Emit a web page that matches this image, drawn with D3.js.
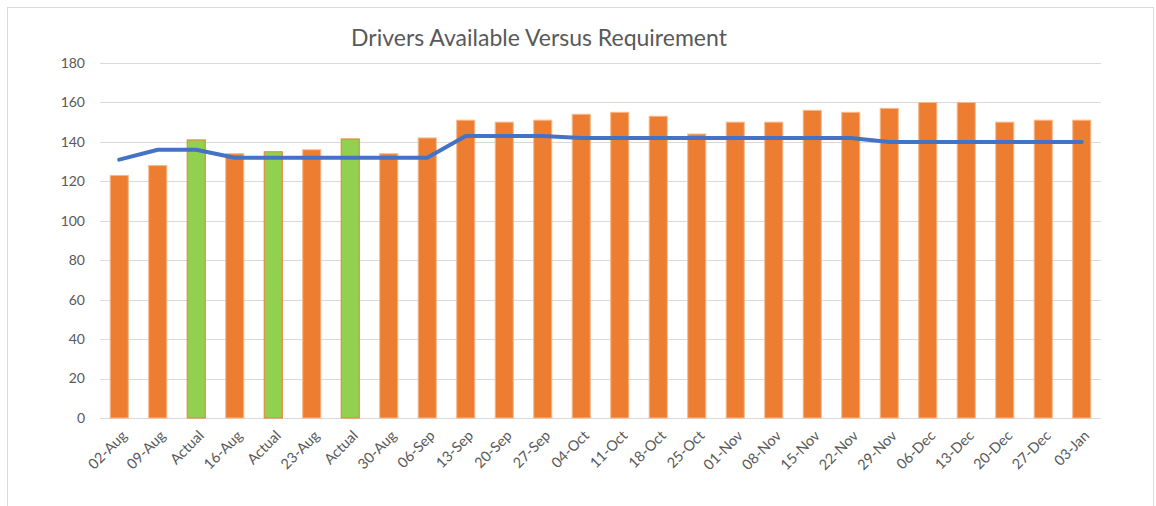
<!DOCTYPE html>
<html>
<head>
<meta charset="utf-8">
<script src="https://cdn.jsdelivr.net/npm/d3@7"></script>
<style>
  body { margin: 0; background: #fff; }
  text { font-family: Lato, "Open Sans", sans-serif; fill: #595959; }
</style>
</head>
<body>
<div id="chart-area"></div>
<script>
const weeks = ["02-Aug", "09-Aug", "Actual", "16-Aug", "Actual", "23-Aug", "Actual", "30-Aug", "06-Sep",
    "13-Sep", "20-Sep", "27-Sep", "04-Oct", "11-Oct", "18-Oct", "25-Oct", "01-Nov", "08-Nov", "15-Nov",
    "22-Nov", "29-Nov", "06-Dec", "13-Dec", "20-Dec", "27-Dec", "03-Jan"];
const available = [123, 128, 141, 134, 135, 136, 141.5, 134, 142, 151, 150, 151, 154, 155, 153, 144, 150, 150, 156,
    155, 157, 160, 160, 150, 151, 151];
const required = [131, 136, 136, 132, 132, 132, 132, 132, 132, 143, 143, 143, 142, 142, 142, 142, 142, 142, 142,
    142, 140, 140, 140, 140, 140, 140];
const yTicks = [0, 20, 40, 60, 80, 100, 120, 140, 160, 180];

const width = 1156, height = 506;
const margin = { top: 63, right: 55, bottom: 88, left: 100 };

const svg = d3.select('#chart-area').append('svg')
    .attr('width', width)
    .attr('height', height);

// chart frame
svg.append('rect')
    .attr('x', 7.5).attr('y', 7.5)
    .attr('width', 1146).attr('height', 520)
    .attr('fill', 'none')
    .attr('stroke', '#d9d9d9');

const x = d3.scaleBand()
    .domain(d3.range(weeks.length))
    .range([margin.left, width - margin.right])
    .paddingInner(0.53)
    .paddingOuter(0.265);

const y = d3.scaleLinear()
    .domain([0, 180])
    .range([height - margin.bottom, margin.top]);

// gridlines
svg.selectAll('.grid')
    .data(yTicks)
    .enter().append('line')
    .attr('class', 'grid')
    .attr('x1', margin.left)
    .attr('x2', width - margin.right)
    .attr('y1', d => Math.round(y(d)) + 0.5)
    .attr('y2', d => Math.round(y(d)) + 0.5)
    .attr('stroke', '#d9d9d9')
    .attr('stroke-width', 1);

// y tick labels
svg.selectAll('.y-label')
    .data(yTicks)
    .enter().append('text')
    .attr('class', 'y-label')
    .attr('x', margin.left - 15)
    .attr('y', d => y(d))
    .attr('dy', '.35em')
    .attr('text-anchor', 'end')
    .style('font-size', '14px')
    .text(d => d);

// bars
svg.selectAll('.bar')
    .data(available)
    .enter().append('rect')
    .attr('class', 'bar')
    .attr('x', (d, i) => x(i))
    .attr('y', d => y(d))
    .attr('width', x.bandwidth())
    .attr('height', d => y(0) - y(d))
    .attr('fill', (d, i) => weeks[i] === 'Actual' ? '#92D050' : '#ED7D31')
    .attr('stroke', (d, i) => weeks[i] === 'Actual' ? '#ED7D31' : '#f6b98c')
    .attr('stroke-width', 1);

// requirement line
const line = d3.line()
    .x((d, i) => x(i) + x.bandwidth() / 2)
    .y(d => y(d));

svg.append('path')
    .datum(required)
    .attr('d', line)
    .attr('fill', 'none')
    .attr('stroke', '#4472C4')
    .attr('stroke-width', 4)
    .attr('stroke-linejoin', 'round')
    .attr('stroke-linecap', 'round');

// x labels
svg.selectAll('.x-label')
    .data(weeks)
    .enter().append('text')
    .attr('class', 'x-label')
    .attr('transform', (d, i) => `translate(${x(i) + x.bandwidth() / 2 + 5},${y(0) + 15}) rotate(-45)`)
    .attr('text-anchor', 'end')
    .attr('dy', '.35em')
    .style('font-size', '14.5px')
    .text(d => d);

// title
svg.append('text')
    .attr('x', 539)
    .attr('y', 46)
    .attr('text-anchor', 'middle')
    .style('font-size', '23px')
    .text('Drivers Available Versus Requirement');
</script>
</body>
</html>
